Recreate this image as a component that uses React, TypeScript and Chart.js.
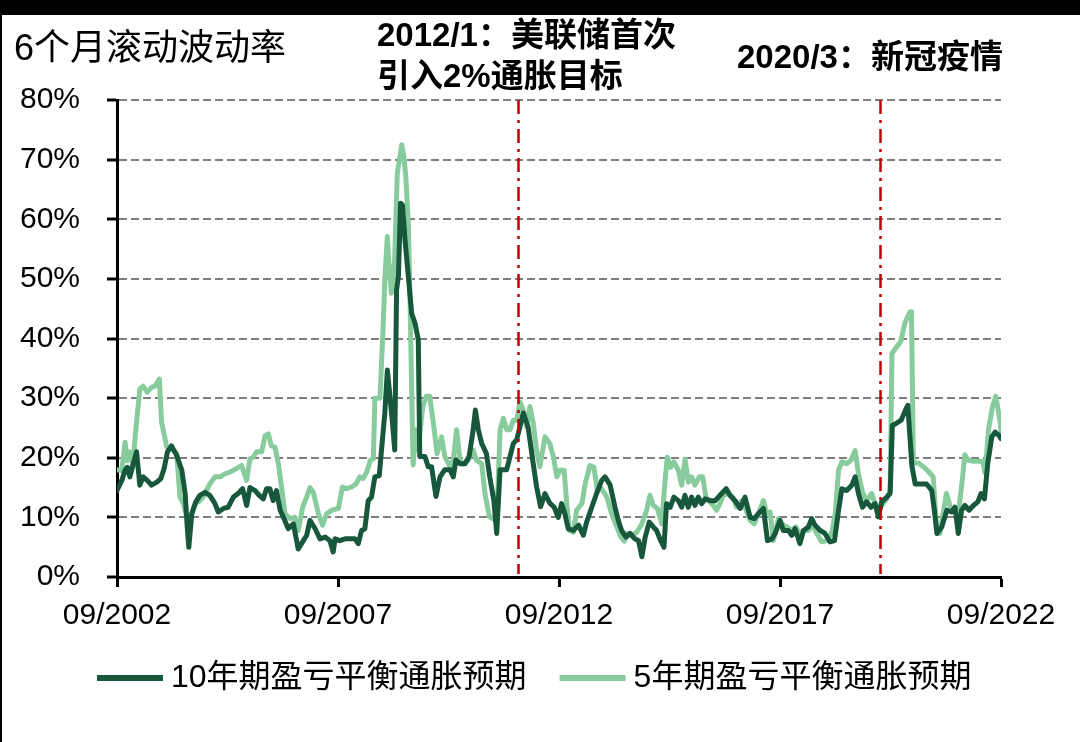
import React, { useEffect, useRef } from 'react';
import { Chart, registerables } from 'chart.js';

Chart.register(...registerables);

// ---- data (x = months since 09/2002) ----
const xTickMonths = [0, 60, 120, 180, 240];
const xTickLabels = ['09/2002', '09/2007', '09/2012', '09/2017', '09/2022'];

const seriesNames = ['10年期盈亏平衡通胀预期', '5年期盈亏平衡通胀预期'];

const t10 = [
  0, 1.3, 2.2, 2.8, 3.5, 4.3, 5.3, 6.2, 7.1, 8.2, 9.4, 10.8, 11.9, 12.8, 13.7, 14.8, 16.2, 17.6, 18.5, 19.1,
  19.5, 20.3, 21.4, 22.5, 23.9, 25.2, 26.6, 27.5, 28.9, 30.2, 31.6, 32.9, 34.1, 35.2, 36.1, 37.5, 38.6, 39.7, 40.6, 41.5,
  42.4, 43.3, 44.3, 45.2, 46.5, 47.9, 49.2, 50.6, 51.5, 52.4, 53.8, 55.1, 56.5, 57.8, 58.7,
  59.2, 60.5, 61.9, 63.2, 64.6, 65.5, 66.4, 67.3, 68.2, 69.1, 70, 71.2, 71.8, 72.7, 73.4, 74.1, 74.8, 75.4, 75.9, 76.4,
  77, 77.5, 78.2, 79.1, 80, 80.9, 81.8, 82.2, 83.6, 84.5, 85.4, 86.6, 87.7, 89, 90.4, 91.3, 92, 93.1, 94.5, 95.6,
  96.7, 97.3, 98.1, 99, 100.3, 101.2, 102.3, 103.1, 104, 104.9, 105.8, 106.7, 107.6, 108.5, 109.4, 110.3, 111.6, 113, 113.9, 115,
  116.2, 117.5,
  118.7, 119.8, 120.7, 121.6, 122.5, 123.9, 125.3, 126.6, 127.5, 128.9, 130.2, 131.6, 132.5, 133.9, 135.2, 136.1, 137, 138.2, 139.3, 140.6,
  141.6, 142.5, 143.4, 144.5, 145.6, 146.5, 147.4, 148.5, 149.2, 150.2, 151.2, 152.4, 153.3, 154.2, 155.1, 156, 156.9, 157.8, 158.7, 159.7,
  161, 162.4, 163.7, 165.4, 166.4, 167.8, 169.2, 170.5, 171.9, 173, 174.1, 175.5, 176.6, 177.8, 178.7,
  180, 180.9, 182.3, 183.2, 184.1, 185.4, 186.4, 187.7, 188.6, 189.5, 190.9, 192.2, 193.6, 194.8, 195.9, 196.8, 198.1, 199.5, 200.4, 201.3,
  202.4, 203.5, 204.7, 205.8, 206.7, 207.6, 209, 209.9, 210.5, 211.4, 212.9, 214, 214.7, 215.8, 216.7, 218.5, 219.8, 221.2, 221.9, 222.6,
  223.9, 225.3, 226.6, 227.5, 228.4, 229.3, 230.2, 231.3, 232.5, 233.7, 234.6, 235.5, 236.4, 237.5, 238.4, 239.5, 240,
];
const v10 = [
  14.5, 16.2, 17.9, 18.4, 16.8, 18.7, 21, 15.4, 16.8, 16.2, 15.4, 15.9, 16.5, 18.2, 21, 22, 20.4, 17.9, 14, 8.1,
  5, 10.6, 12.6, 13.7, 14.2, 13.7, 12.3, 10.9, 11.5, 11.7, 13.4, 14, 14.8, 12, 15, 14.5, 13.7, 13.1, 14.8, 14.8,
  12.8, 14.5, 11.2, 10, 8.1, 8.9, 4.7, 6.1, 7, 9.5, 8.1, 6.4, 6.7, 6.1, 4.2,
  6.4, 6.1, 6.4, 6.4, 6.4, 5.6, 7.8, 8.1, 12.8, 13.4, 16.8, 17, 21.2, 27.4, 34.7, 30.3, 25.8, 21.3, 48.2, 50.4,
  62.7, 62.4, 56.5, 50.4, 44.2, 42.6, 39.8, 20.2, 20.2, 18.5, 18.5, 13.5, 16.8, 18, 18, 16.8, 19.6, 19, 19, 20.2,
  24.7, 28, 24.7, 22.4, 20.7, 16.8, 12.9, 7.3, 18, 18, 18, 20.2, 22.4, 23, 25.2, 27.5, 25.2, 19, 15.2, 11.8,
  14, 12.4,
  11.7, 10, 12.3, 10.6, 8.1, 7.8, 8.7, 7, 9.2, 11.7, 14, 16.2, 16.8, 15.4, 11.7, 9.5, 7.8, 6.7, 7.3, 6.4,
  6.1, 3.4, 6.7, 9.2, 8.4, 7.8, 6.4, 5, 12.3, 11.7, 13.4, 12.8, 11.7, 13.7, 11.7, 13.4, 12, 13.4, 12.3, 13.1,
  12.8, 12.8, 13.7, 14.8, 13.7, 12.8, 11.5, 13.4, 10, 9.8, 10.6, 11.5, 6.1, 6.4, 7.3,
  9.5, 7.8, 7.8, 7, 8.1, 5.6, 7.8, 8.4, 9.8, 8.7, 7.8, 7.3, 5.9, 6.1, 11.2, 14.8, 14.5, 15.4, 16.8, 14,
  11.7, 12.6, 11.7, 12.3, 10.1, 12.6, 13.4, 14, 25.4, 25.7, 26.3, 27.9, 28.8, 18.7, 15.6, 15.6, 15.6, 14.5, 11.2, 7.3,
  8.4, 11.2, 10.9, 11.7, 7.3, 11.2, 12, 11.2, 12, 12.6, 14, 13.1, 19, 23.5, 24.3, 23.7, 23.2,
];

const t5 = [
  0, 1.3, 2.2, 2.8, 3.3, 4.3, 5.3, 6.2, 7.1, 8.2, 9.4, 10.3, 11.5, 12.1, 13.5, 14.8, 16.2, 17.1, 18, 19.4,
  20.3, 21.2, 22.1, 23.4, 25.2, 26.6, 28, 29.3, 30.7, 32.5, 33.8, 35.2, 36.1, 37, 37.9, 39.3, 40.2, 41.1, 41.9, 42.9,
  43.8, 44.7, 45.6, 47, 48.3, 49.2, 50.4, 51.5, 52.4, 53.3, 54.7, 55.8, 56.9, 58.3,
  60.1, 61.2, 62.3, 63.7, 64.9, 65.9, 66.8, 67.8, 68.8, 69.6, 70, 71.4, 72.3, 72.7, 73.4, 73.9, 74.5, 75, 75.4, 76.1,
  76.8, 77.3, 77.9, 78.4, 79.1, 79.5, 80, 80.4, 81.1, 81.8, 83, 84, 84.9, 85.9, 86.9, 88.1, 89, 90.4, 91.3, 92.2,
  93.1, 94, 95.4, 96.7, 97.6, 99, 99.9, 101.1, 102.6, 103.1, 104, 104.9, 105.8, 106.7, 107.6, 108.5, 109.4, 110.3, 111.2, 112.1,
  113, 113.9, 114.8, 116.2, 117.5,
  118.5, 119.4, 120.3, 121.4, 122.1, 122.8, 123.9, 124.8, 126.2, 127.1, 128.4, 129.5, 130.4, 131.6, 133, 134.3, 135.7, 136.8, 137.7, 138.6,
  139.7, 141.1, 142.5, 143.8, 144.7, 145.6, 146.7, 147.9, 148.8, 149.4, 150.3, 151.2, 152.4, 153.3, 154.2, 155.1, 156, 156.9, 158.1, 159,
  159.9, 161, 161.9, 162.8, 163.7, 164.6, 166, 167.2, 168.2, 169.6, 170.8, 171.9, 173, 174.1, 175.5, 176.4, 177.3, 178.2,
  179.6, 180.5, 181.8, 183.2, 184.3, 185.2, 186.4, 187.7, 188.8, 190, 191.3, 192.7, 194, 195, 195.9, 196.8, 198.1, 199.3, 200.4, 201.3,
  202.4, 203.5, 204.9, 205.8, 206.7, 207.6, 209, 209.9, 210.4, 211.7, 212.8, 213.9, 215.3, 215.7, 216.2, 217.6, 218.9, 220.3, 221.6, 222.5,
  223.4, 224.3, 225.2, 226.2, 227.1, 228.4, 229.3, 230.2, 231.1, 232.5, 233.8, 235, 235.7, 236.6, 237.7, 238.6, 239.7, 240,
];
const v5 = [
  18, 17.8, 22.6, 19.5, 21, 19, 26, 31.5, 32, 31, 31.8, 32, 33.2, 26, 21.8, 21.5, 20.7, 13.4, 12.3, 8.9,
  10.6, 12.3, 12.6, 13.4, 15.6, 16.8, 16.8, 17.3, 17.6, 18.2, 18.7, 16.2, 19.8, 20.1, 21, 21, 23.7, 24, 22, 21.8,
  19, 15, 10.6, 9.8, 10, 7.8, 11.7, 13.4, 15, 14.2, 10.6, 8.7, 10.6, 11.2,
  11.5, 15.1, 14.8, 15.1, 15.6, 16.8, 16.5, 17.6, 19.6, 19.8, 30, 30, 42.6, 49.8, 57.1, 51.5, 47.6, 50.4, 53.7, 67.7,
  70.5, 72.5, 70.5, 67.2, 59.3, 48.2, 31.4, 18.8, 24.7, 21.3, 28.6, 30.3, 30.3, 25.8, 20.7, 23.5, 20.2, 18.5, 19.6, 24.7,
  19.6, 19, 19.6, 21.3, 19.6, 19, 14, 10.1, 9.6, 9.6, 24.7, 26.6, 24.7, 24.7, 26.3, 26.3, 29.4, 28, 25.2, 28.6,
  25.8, 21.3, 18.5, 23.5, 22.4,
  20.1, 16.8, 17.9, 17.9, 12.3, 7.8, 7.5, 11.2, 12.3, 15.6, 18.7, 18.4, 14.5, 14.8, 13.4, 10.6, 8.4, 6.7, 6, 7.3,
  7, 7.5, 8.9, 11.2, 13.7, 12, 11.5, 8.9, 16.2, 20.1, 18.4, 19.3, 17.9, 15.4, 19.8, 15.9, 16.8, 15.4, 16.8, 16.8,
  13.4, 12.6, 12, 11.2, 12.3, 13.7, 14, 13.4, 11.7, 12.8, 11.2, 9.5, 8.9, 10.6, 12.8, 10.6, 10.9, 6.1,
  9.8, 8.9, 8.4, 7.8, 8.4, 7.3, 7.8, 7.8, 8.7, 7.3, 5.9, 6.1, 7.3, 10.6, 17.9, 19.3, 19, 19.6, 21.2, 17.3,
  14.2, 12.8, 14, 12.3, 11.2, 12, 13.1, 14.5, 37.5, 38.6, 39.5, 42.6, 44.5, 44.5, 19.1, 19.1, 18.5, 17.7, 16.8, 8.4,
  7.3, 10.7, 14, 11.8, 11.2, 10.7, 15.2, 20.5, 19.6, 19.4, 19.4, 19.4, 17.4, 24.7, 28.6, 30.3, 26.3, 24.4,
];

const eventMonths = [108.9, 207.2];
const eventNotes = [
  ['2012/1：美联储首次', '引入2%通胀目标'],
  ['2020/3：新冠疫情'],
];
const axisTitle = '6个月滚动波动率';

// ---- styles ----
const DARK = '#17573b';
const LIGHT = '#88cc9e';
const RED = '#c00000';
const GRID = '#808080';
const FONT = '"Liberation Sans", "Noto Sans CJK SC", sans-serif';

const overlayPlugin = {
  id: 'overlay',
  afterDatasetsDraw(chart: any) {
    const { ctx, chartArea, scales } = chart;
    ctx.save();
    ctx.strokeStyle = RED;
    ctx.lineWidth = 2.5;
    ctx.setLineDash([14, 6, 3, 6]);
    eventMonths.forEach((m) => {
      const px = Math.round(scales.x.getPixelForValue(m)) + 0.5;
      ctx.beginPath();
      ctx.moveTo(px, chartArea.top);
      ctx.lineTo(px, chartArea.bottom - 3);
      ctx.stroke();
    });
    ctx.restore();
  },
  afterDraw(chart: any) {
    const { ctx } = chart;
    ctx.save();
    ctx.fillStyle = '#000';
    ctx.textBaseline = 'middle';
    ctx.textAlign = 'left';
    // axis title
    ctx.font = `36px ${FONT}`;
    ctx.fillText(axisTitle, 14, 50);
    // event notes
    ctx.font = `bold 33px ${FONT}`;
    ctx.fillText(eventNotes[0][0], 377, 37);
    ctx.fillText(eventNotes[0][1], 377, 78);
    ctx.fillText(eventNotes[1][0], 737, 59);
    // legend
    ctx.font = `32px ${FONT}`;
    let x = 97;
    const y = 678;
    chart.data.datasets.forEach((ds: any) => {
      ctx.fillStyle = ds.borderColor;
      ctx.fillRect(x, y - 3, 66, 6);
      x += 66 + 8;
      ctx.fillStyle = '#000';
      ctx.fillText(ds.label, x, y);
      x += ctx.measureText(ds.label).width + 33;
    });
    ctx.restore();
  },
};

export default function App() {
  const ref = useRef<HTMLCanvasElement | null>(null);

  useEffect(() => {
    if (!ref.current) return;
    const chart = new Chart(ref.current, {
      type: 'line',
      data: {
        datasets: [
          {
            label: seriesNames[0],
            data: t10.map((t, i) => ({ x: t, y: v10[i] })),
            borderColor: DARK,
            backgroundColor: DARK,
            borderWidth: 5,
            pointRadius: 0,
            borderJoinStyle: 'round',
            borderCapStyle: 'round',
            tension: 0,
          },
          {
            label: seriesNames[1],
            data: t5.map((t, i) => ({ x: t, y: v5[i] })),
            borderColor: LIGHT,
            backgroundColor: LIGHT,
            borderWidth: 5,
            pointRadius: 0,
            borderJoinStyle: 'round',
            borderCapStyle: 'round',
            tension: 0,
          },
        ],
      },
      options: {
        animation: false,
        responsive: false,
        layout: { padding: { top: 100, right: 79, bottom: 100, left: 0 } },
        plugins: { legend: { display: false }, tooltip: { enabled: false }, title: { display: false } },
        scales: {
          x: {
            type: 'linear',
            min: 0,
            max: 240,
            afterBuildTicks: (s: any) => {
              s.ticks = xTickMonths.map((v) => ({ value: v }));
            },
            afterFit: (s: any) => {
              s.height = 65;
            },
            ticks: {
              autoSkip: false,
              maxRotation: 0,
              padding: 11,
              color: '#000',
              font: { family: FONT, size: 30 },
              callback: (v: any) => {
                const i = xTickMonths.indexOf(Number(v));
                return i >= 0 ? xTickLabels[i] : '';
              },
            },
            grid: {
              display: true,
              drawOnChartArea: false,
              drawTicks: true,
              tickLength: 10,
              tickColor: '#000',
              tickWidth: 3,
            },
            border: { display: true, color: '#000', width: 3 },
          },
          y: {
            min: 0,
            max: 80,
            afterFit: (s: any) => {
              s.width = 117;
            },
            ticks: {
              stepSize: 10,
              padding: 27,
              color: '#000',
              font: { family: FONT, size: 30 },
              callback: (v: any) => `${v}%`,
            },
            grid: {
              color: GRID,
              lineWidth: 2,
              drawTicks: true,
              tickLength: 10,
              tickColor: '#000',
              tickWidth: 3,
            },
            border: { display: true, color: '#000', width: 3, dash: [8, 4] },
          },
        },
      },
      plugins: [overlayPlugin],
    });
    return () => chart.destroy();
  }, []);

  return (
    <div style={{ position: 'fixed', left: 0, top: 0, width: 1080, height: 742, background: '#fff' }}>
      <canvas ref={ref} width={1080} height={742} style={{ display: 'block' }} />
      <div style={{ position: 'absolute', left: 0, top: 0, width: 1080, height: 15, background: '#000' }} />
      <div style={{ position: 'absolute', left: 0, top: 0, width: 2, height: 742, background: '#000' }} />
    </div>
  );
}
